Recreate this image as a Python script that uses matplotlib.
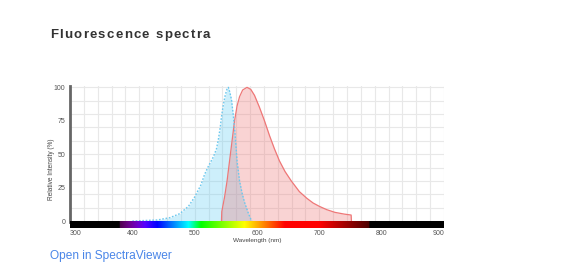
import numpy as np
import matplotlib
matplotlib.use("Agg")
import matplotlib.pyplot as plt
from matplotlib import font_manager, ft2font

plt.rcParams['font.family'] = ['Liberation Sans', 'DejaVu Sans']

# Excitation spectrum (nm, %)
ex_wl = [400, 420, 440, 460, 476, 490, 500, 510, 516, 522, 530, 535, 538, 541,
         543, 546, 549, 552, 554, 556, 559, 562, 565, 568, 572, 576, 580, 586,
         590, 592]
ex_val = [0, 0.4, 0.8, 2.5, 5.5, 11, 18, 27, 35, 41, 48, 54, 61, 70,
          78, 87, 94, 99, 100, 97, 91, 79, 64, 45, 30, 21, 14, 6,
          1.5, 0]

# Emission spectrum (nm, %)
em_wl = [543, 543.5, 548, 552, 556, 560, 564, 568, 572, 577, 584, 590, 596, 604,
         612, 620, 628, 636, 645, 655, 668, 680, 690, 700, 712, 725, 740, 751,
         751.5]
em_val = [0, 7, 18, 30, 45, 60, 75, 86, 93, 98, 100, 98.5, 94, 85,
          75, 64, 54, 45, 37, 30, 22, 17, 13.5, 11, 8.5, 6.5, 5.2, 4.5,
          0]

x_ticks = [300, 400, 500, 600, 700, 800, 900]
y_ticks = [0, 25, 50, 75, 100]

title = 'Fluorescence spectra'
link = 'Open in SpectraViewer'


def wavelength_to_rgb(wl):
    # rough visible-spectrum colour, black outside 380-780 nm
    if wl < 380 or wl > 780:
        return (0, 0, 0)
    if wl < 440:
        r, g, b = -(wl - 440) / 60, 0, 1
    elif wl < 490:
        r, g, b = 0, (wl - 440) / 50, 1
    elif wl < 510:
        r, g, b = 0, 1, -(wl - 510) / 20
    elif wl < 580:
        r, g, b = (wl - 510) / 70, 1, 0
    elif wl < 645:
        r, g, b = 1, -(wl - 645) / 65, 0
    else:
        r, g, b = 1, 0, 0
    if wl < 420:
        f = 0.3 + 0.7 * (wl - 380) / 40
    elif wl > 700:
        f = 0.3 + 0.7 * (780 - wl) / 80
    else:
        f = 1.0
    return (r * f, g * f, b * f)


# text with extra letter spacing (px), placed char by char using glyph advances
def spaced_text(fig, x_px, y_px, s, spacing, size, weight, color):
    prop = font_manager.FontProperties(family='Liberation Sans', weight=weight)
    font = ft2font.FT2Font(font_manager.findfont(prop))
    font.set_size(size, 100)
    x = x_px
    for ch in s:
        fig.text(x / 564, 1 - y_px / 271, ch, ha='left', va='baseline',
                 fontsize=size, fontweight=weight, color=color)
        x += font.load_char(ord(ch)).linearHoriAdvance / 65536 + spacing


fig = plt.figure(figsize=(5.64, 2.71), dpi=100)
ax = fig.add_axes([70 / 564, 43 / 271, 374 / 564, 142 / 271])

ymin, ymax = -5.2, 101
ax.set_xlim(300, 900)
ax.set_ylim(ymin, ymax)

# light grid
for gx in np.linspace(300, 900, 28):
    ax.axvline(gx, color='#e8e8e8', lw=0.8, zorder=0)
for gy in range(0, 101, 10):
    ax.axhline(gy, color='#e8e8e8', lw=0.8, zorder=0)

# spectra
ax.fill_between(ex_wl, ex_val, 0, color='#5ccbf2', alpha=0.3, lw=0, zorder=2)
ax.fill_between(em_wl, em_val, 0, color='#ee6e6e', alpha=0.3, lw=0, zorder=3)
ax.plot(em_wl, em_val, color='#ee7777', lw=0.9, zorder=4)
ax.plot(ex_wl, ex_val, color='#6cc8ee', lw=1.0, ls=(0, (1.2, 1.2)), zorder=5)

# spectrum colour bar under the axis
wl = np.linspace(300, 900, 601)
bar = np.array([[wavelength_to_rgb(w) for w in wl]])
ax.imshow(bar, extent=[300, 900, ymin, -0.7], aspect='auto', zorder=6,
          interpolation='bilinear')

for s in ['top', 'right', 'bottom']:
    ax.spines[s].set_visible(False)
ax.spines['left'].set_color('#666666')
ax.spines['left'].set_linewidth(2)
ax.spines['left'].set_bounds(-0.7, ymax)

ax.set_yticks(y_ticks)
ax.set_yticklabels([str(v) for v in y_ticks])
ax.tick_params(axis='y', length=0, pad=3.4, labelsize=5, labelcolor='#555555')
ax.set_xticks([])

for v in x_ticks:
    ha = 'center'
    if v == x_ticks[0]:
        ha = 'left'
    elif v == x_ticks[-1]:
        ha = 'right'
    ax.text(v, ymin - 1.4, str(v), ha=ha, va='top', fontsize=5,
            color='#555555')

fig.text(257 / 564, 1 - 240.5 / 271, 'Wavelength (nm)', ha='center',
         va='center', fontsize=4.6, color='#444444')
fig.text(51.5 / 564, 1 - 169 / 271, 'Relative Intensity (%)', ha='center',
         va='center', rotation=90, fontsize=4.7, color='#444444')

spaced_text(fig, 50, 38.3, title, 1.25, 9.5, 'bold', '#333333')
fig.text(49.5 / 564, 1 - 255.5 / 271, link, ha='left',
         va='center', fontsize=8.6, color='#4a86e8')

fig.savefig('out.png', dpi=100)
